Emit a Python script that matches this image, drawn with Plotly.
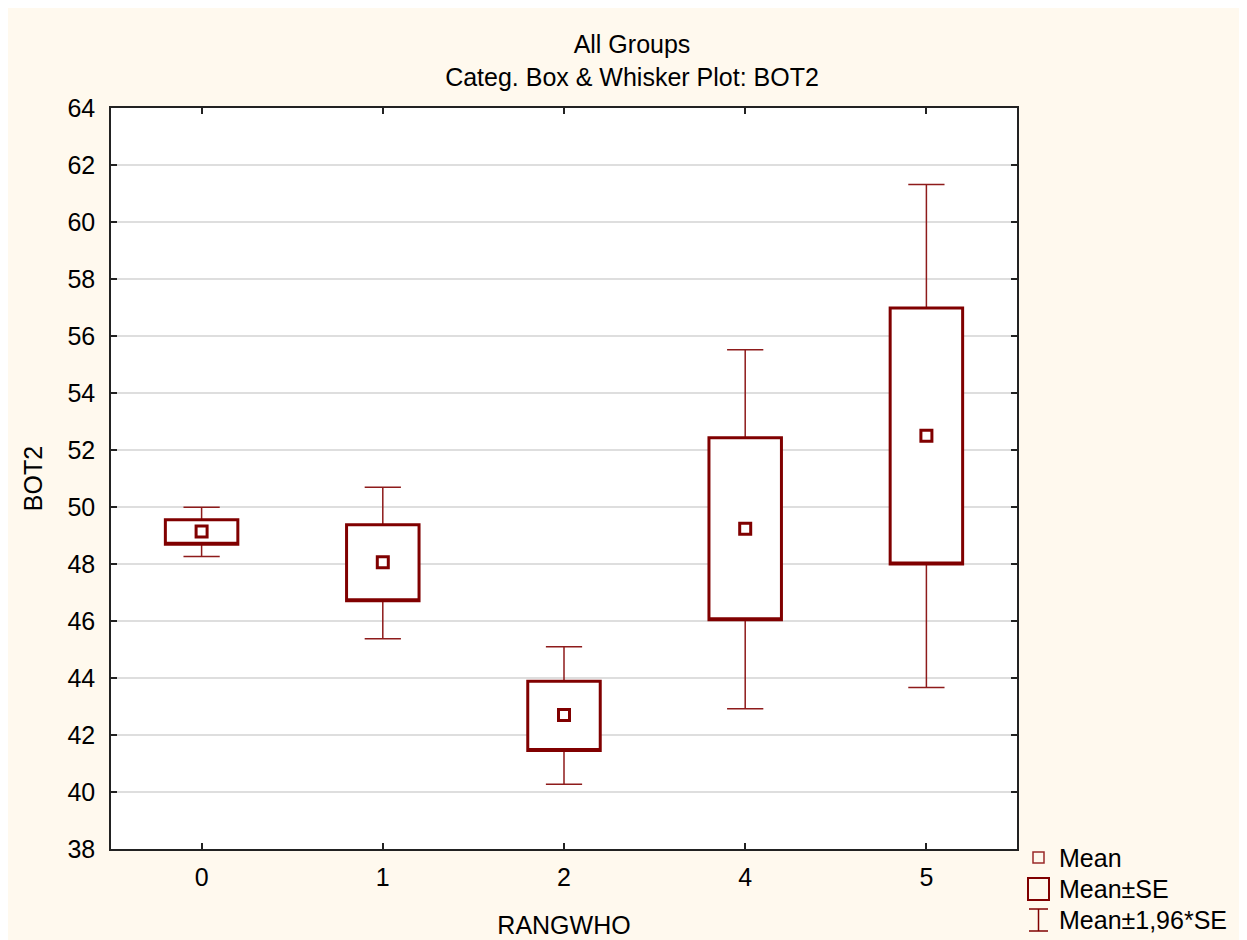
import plotly.graph_objects as go

# ---- data ----
categories = ["0", "1", "2", "4", "5"]
mean_vals = [49.14, 48.06, 42.70, 49.24, 52.50]
se_low = [48.69, 46.71, 41.46, 46.04, 48.00]
se_high = [49.55, 49.38, 43.89, 52.43, 56.98]
ci_low = [48.26, 45.38, 40.27, 42.92, 43.67]
ci_high = [49.99, 50.69, 45.10, 55.52, 61.32]
y_ticks = list(range(38, 65, 2))
legend_labels = ["Mean", "Mean\u00b1SE", "Mean\u00b11,96*SE"]

# ---- style ----
OFF = 8                      # page body margin
W, H = 1247 - OFF, 940 - OFF
# plot area in screen pixels: x 111..1017, y 108..849
ML, MT = 111 - OFF, 108 - OFF
MR, MB = W - (1017 - OFF), H - (849 - OFF)
DARK = "#800000"
CREAM = "#FFF9EE"
FONT = "Liberation Sans, Arial, sans-serif"
FS = 25

xpos = list(range(len(categories)))

fig = go.Figure()

# whiskers (Mean +/- 1.96*SE): thin box trace collapsed at the mean
fig.add_trace(go.Box(
    x=xpos, q1=mean_vals, median=mean_vals, q3=mean_vals,
    lowerfence=ci_low, upperfence=ci_high,
    width=0.4, whiskerwidth=0.5,
    line=dict(color="#8E1B1B", width=1.5), fillcolor="rgba(0,0,0,0)",
    boxpoints=False, showlegend=False, hoverinfo="skip",
))
# boxes (Mean +/- SE)
fig.add_trace(go.Box(
    x=xpos, q1=se_low, median=se_low, q3=se_high,
    lowerfence=se_low, upperfence=se_high,
    width=0.4, whiskerwidth=0,
    line=dict(color=DARK, width=3), fillcolor="white",
    boxpoints=False, showlegend=False, hoverinfo="skip",
))
# means
fig.add_trace(go.Scatter(
    x=xpos, y=mean_vals, mode="markers",
    marker=dict(symbol="square", size=11, color="white",
                line=dict(color=DARK, width=3)),
    showlegend=False, hoverinfo="skip",
))

pw = 1017 - 111
ph = 849 - 108


def px_x(p):  # screen px -> paper
    return (p - 111) / pw


def px_y(p):
    return (849 - p) / ph


shapes = []
lx = 1038.5
shapes.append(dict(type="rect", xref="paper", yref="paper",
                   x0=px_x(lx - 5.5), x1=px_x(lx + 5.5), y0=px_y(863), y1=px_y(852),
                   line=dict(color="#9A2A2A", width=1.5), fillcolor="rgba(0,0,0,0)"))
shapes.append(dict(type="rect", xref="paper", yref="paper",
                   x0=px_x(lx - 10.5), x1=px_x(lx + 10.5), y0=px_y(900), y1=px_y(878),
                   line=dict(color=DARK, width=2), fillcolor="rgba(0,0,0,0)"))
for (xa, ya, xb, yb) in [(lx, 909, lx, 931), (lx - 9.5, 909, lx + 9.5, 909),
                         (lx - 9.5, 931, lx + 9.5, 931)]:
    shapes.append(dict(type="line", xref="paper", yref="paper",
                       x0=px_x(xa), x1=px_x(xb), y0=px_y(ya), y1=px_y(yb),
                       line=dict(color=DARK, width=1.5)))

annotations = []
for lab, yc in zip(legend_labels, [858, 889, 920]):
    annotations.append(dict(text=lab, xref="paper", yref="paper",
                            x=px_x(1057), y=px_y(yc), xanchor="left", yanchor="middle",
                            showarrow=False, font=dict(size=FS, color="black", family=FONT)))

fig.update_layout(
    width=W, height=H,
    margin=dict(l=ML, r=MR, t=MT, b=MB, autoexpand=False),
    paper_bgcolor=CREAM, plot_bgcolor="white",
    font=dict(family=FONT, color="black", size=FS),
    title=dict(text="All Groups<br>Categ. Box & Whisker Plot: BOT2",
               x=(632 - OFF) / W, xanchor="center", y=1 - 45 / H, yanchor="top",
               font=dict(size=FS, color="black", family=FONT)),
    boxmode="overlay",
    shapes=shapes,
    annotations=annotations,
    showlegend=False,
)

fig.update_xaxes(
    automargin=False,
    range=[-0.5, 4.5], tickmode="array", tickvals=xpos, ticktext=categories,
    showgrid=False, zeroline=False,
    showline=True, linecolor="#222222", linewidth=1.5, mirror="ticks",
    ticks="inside", ticklen=6, tickwidth=1.5, tickcolor="#222222",
    ticklabelstandoff=5,
    tickfont=dict(size=FS),
    title=dict(text="RANGWHO", standoff=27, font=dict(size=FS)),
)
fig.update_yaxes(
    automargin=False,
    range=[38, 64], tickmode="array", tickvals=y_ticks,
    showgrid=True, gridcolor="#DEDEDE", gridwidth=1.5, zeroline=False,
    showline=True, linecolor="#222222", linewidth=1.5, mirror="ticks",
    ticks="inside", ticklen=6, tickwidth=1.5, tickcolor="#222222",
    ticklabelstandoff=9,
    tickfont=dict(size=FS),
    title=dict(text="BOT2", standoff=18, font=dict(size=FS)),
)

fig.write_html("out.html")
